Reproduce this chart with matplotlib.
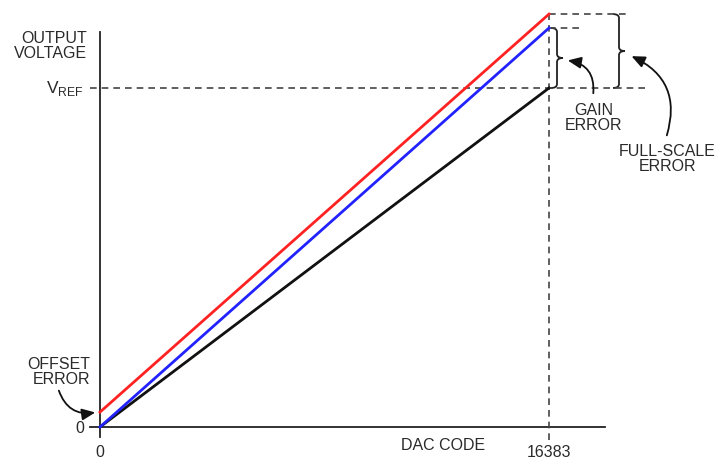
import matplotlib.pyplot as plt
from matplotlib.path import Path
from matplotlib.patches import PathPatch

plt.rcParams['font.family'] = ['Liberation Sans', 'DejaVu Sans']

# transfer-function data (y in units of VREF)
codes = [0, 16383]
ideal = [0.0, 1.0]
gain_err = [0.0, 1.177]
full_err = [0.044, 1.218]
vref = 1.0
full_code = 16383

W, H = 716, 461
fig = plt.figure(figsize=(W / 100, H / 100), dpi=100)
ax = fig.add_axes([0, 0, 1, 1])
# axis origin at pixel (100, 427), code 16383 at x=549, VREF at y=88
sx = full_code / 449.0
sy = 1.0 / 339.0
ax.set_xlim(-100 * sx, (W - 100) * sx)
ax.set_ylim(-(H - 427) * sy, 427 * sy)
ax.axis('off')


def px(x, y):
    return (x - 100) * sx, (427 - y) * sy


dash = dict(color='#444444', lw=1.2, ls=(0, (4, 3)))

# axes
ax.plot(*zip(px(100, 437), px(100, 32)), color='#222222', lw=1.3)
ax.plot(*zip(px(90, 427), px(605, 427)), color='#222222', lw=1.3)

# dashed guides
ax.plot([full_code, full_code], [px(0, 440)[1], px(0, 10)[1]], **dash)
ax.plot([px(90, 0)[0], px(648, 0)[0]], [vref, vref], **dash)
ax.plot([full_code, px(630, 0)[0]], [full_err[1]] * 2, **dash)
ax.plot([full_code, px(584, 0)[0]], [gain_err[1]] * 2, **dash)

ax.plot(codes, ideal, color='#111111', lw=2)
ax.plot(codes, gain_err, color='#2222ff', lw=2)
ax.plot(codes, full_err, color='#ff2222', lw=2)


def brace(xp, y_top, y_bot, w=6):
    x0 = px(xp, 0)[0]
    dx = w * sx
    ym = (y_top + y_bot) / 2
    h = 4 * sy
    verts = [(x0 - dx, y_top), (x0, y_top), (x0, y_top - h),
             (x0, ym + h),
             (x0, ym), (x0 + dx, ym),
             (x0, ym), (x0, ym - h),
             (x0, y_bot + h),
             (x0, y_bot), (x0 - dx, y_bot)]
    codes_ = [Path.MOVETO, Path.CURVE3, Path.CURVE3, Path.LINETO,
              Path.CURVE3, Path.CURVE3, Path.CURVE3, Path.CURVE3,
              Path.LINETO, Path.CURVE3, Path.CURVE3]
    ax.add_patch(PathPatch(Path(verts, codes_), fill=False,
                           color='#222222', lw=1.3))


brace(557, gain_err[1], vref)
brace(619, full_err[1], vref)

arw = dict(arrowstyle='-|>,head_length=0.8,head_width=0.35', color='#111111', lw=1.3)
ax.annotate('', xy=px(565, 60), xytext=px(593, 96),
            arrowprops=dict(connectionstyle='arc3,rad=0.5', **arw))
ax.annotate('', xy=px(629, 55), xytext=px(666, 138),
            arrowprops=dict(connectionstyle='arc3,rad=0.45', **arw))
ax.annotate('', xy=px(98, 412), xytext=px(58, 388),
            arrowprops=dict(connectionstyle='arc3,rad=0.45', **arw))

fs = 11.5
tc = '#2a2a2a'
ax.text(*px(87, 46), 'OUTPUT\nVOLTAGE', ha='right', va='center', fontsize=fs,
        color=tc, linespacing=1.05)
ax.text(*px(84, 88), r'V$_{\mathregular{REF}}$', ha='right', va='center',
        fontsize=fs + 1, color=tc)
ax.text(*px(90, 372), 'OFFSET\nERROR', ha='right', va='center', fontsize=fs,
        color=tc, linespacing=1.05)
ax.text(*px(80, 428), '0', ha='center', va='center', fontsize=fs, color=tc)
ax.text(*px(100, 452), '0', ha='center', va='center', fontsize=fs, color=tc)
ax.text(*px(443, 445), 'DAC CODE', ha='center', va='center', fontsize=fs, color=tc)
ax.text(*px(549, 452), '16383', ha='center', va='center', fontsize=fs, color=tc)
ax.text(*px(594, 118), 'GAIN\nERROR', ha='center', va='center', fontsize=fs,
        color=tc, linespacing=1.05)
ax.text(*px(667, 159), 'FULL-SCALE\nERROR', ha='center', va='center', fontsize=fs,
        color=tc, linespacing=1.05)

fig.savefig('out.png', dpi=100)
